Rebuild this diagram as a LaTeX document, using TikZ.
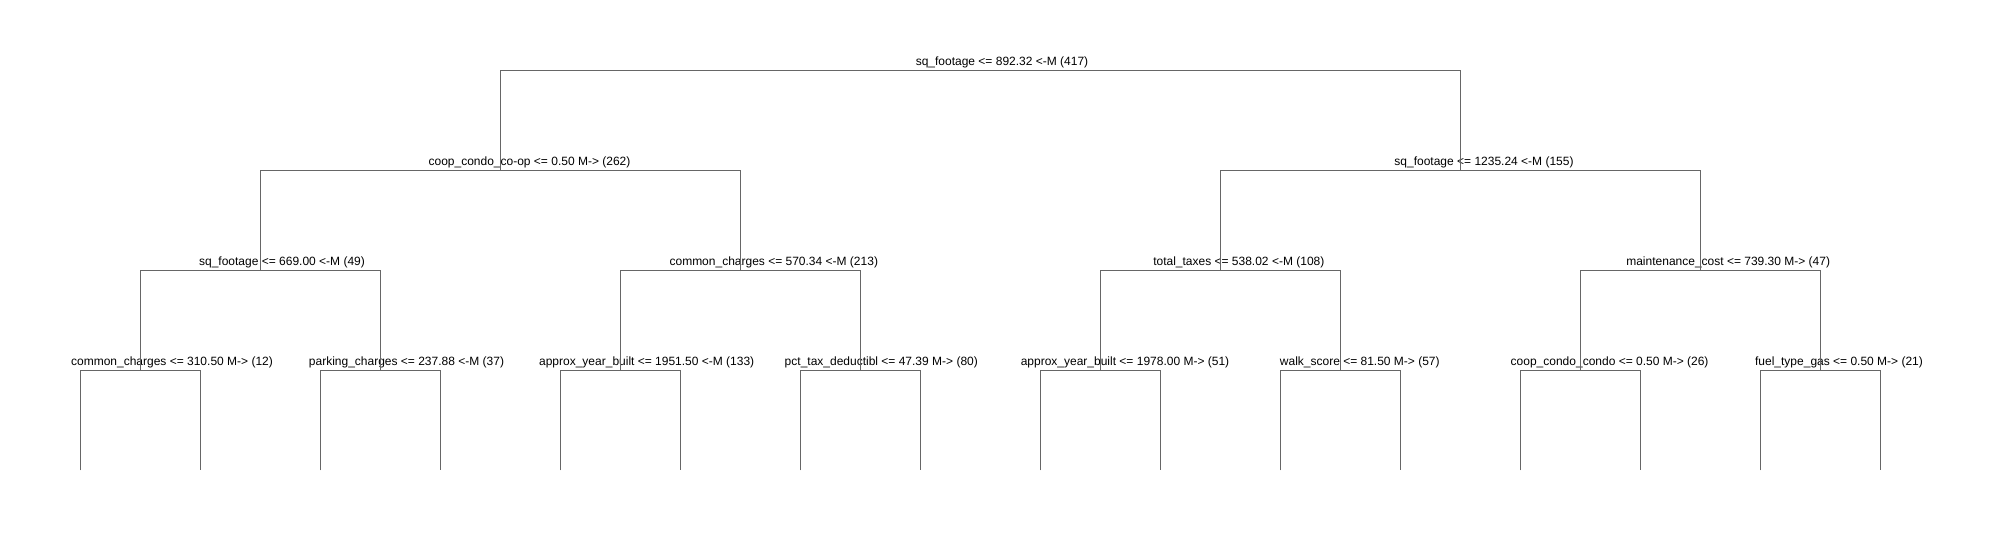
\documentclass[tikz,border=0pt]{standalone}
\usepackage{fontspec}
\setmainfont{Liberation Sans}
\begin{document}
\begin{tikzpicture}[x=1pt,y=-1pt,
  edge/.style={draw=black!60, line width=0.9pt},
  lbl/.style={anchor=base, inner sep=0pt, font=\fontsize{12}{14}\selectfont, text=black}]
\useasboundingbox[fill=white] (0,0) rectangle (1992,540);
% split points
\coordinate (r)   at (980,70.3);
\coordinate (a)   at (500,170.3);
\coordinate (b)   at (1460,170.3);
\coordinate (aa)  at (260,270.3);
\coordinate (ab)  at (740,270.3);
\coordinate (ba)  at (1220,270.3);
\coordinate (bb)  at (1700,270.3);
\coordinate (aaa) at (140,370.3);
\coordinate (aab) at (380,370.3);
\coordinate (aba) at (620,370.3);
\coordinate (abb) at (860,370.3);
\coordinate (baa) at (1100,370.3);
\coordinate (bab) at (1340,370.3);
\coordinate (bba) at (1580,370.3);
\coordinate (bbb) at (1820,370.3);
% leaves
\foreach \i in {0,...,15} {\coordinate (l\i) at ({80+120*\i},470.3);}
% labels
\node[lbl] (tr)   at (1002,65.7)  {sq\_footage <= 892.32 <-M (417)};
\node[lbl] (ta)   at (529.5,165.7) {coop\_condo\_co-op <= 0.50 M-> (262)};
\node[lbl] (tb)   at (1484,165.7) {sq\_footage <= 1235.24 <-M (155)};
\node[lbl] (taa)  at (282,265.7)  {sq\_footage <= 669.00 <-M (49)};
\node[lbl] (tab)  at (773.8,265.7) {common\_charges <= 570.34 <-M (213)};
\node[lbl] (tba)  at (1238.8,265.7) {total\_taxes <= 538.02 <-M (108)};
\node[lbl] (tbb)  at (1728.2,265.7) {maintenance\_cost <= 739.30 M-> (47)};
\node[lbl] (taaa) at (172,365.7)  {common\_charges <= 310.50 M-> (12)};
\node[lbl] (taab) at (406.5,365.7) {parking\_charges <= 237.88 <-M (37)};
\node[lbl] (taba) at (646.7,365.7) {approx\_year\_built <= 1951.50 <-M (133)};
\node[lbl] (tabb) at (881.3,365.7) {pct\_tax\_deductibl <= 47.39 M-> (80)};
\node[lbl] (tbaa) at (1125,365.7) {approx\_year\_built <= 1978.00 M-> (51)};
\node[lbl] (tbab) at (1359.8,365.7) {walk\_score <= 81.50 M-> (57)};
\node[lbl] (tbba) at (1609.6,365.7) {coop\_condo\_condo <= 0.50 M-> (26)};
\node[lbl] (tbbb) at (1839,365.7) {fuel\_type\_gas <= 0.50 M-> (21)};
% connectors
\draw[edge] (a) |- (r) -| (b);
\draw[edge] (aa) |- (a) -| (ab);
\draw[edge] (ba) |- (b) -| (bb);
\draw[edge] (aaa) |- (aa) -| (aab);
\draw[edge] (aba) |- (ab) -| (abb);
\draw[edge] (baa) |- (ba) -| (bab);
\draw[edge] (bba) |- (bb) -| (bbb);
\draw[edge] (l0) |- (aaa) -| (l1);
\draw[edge] (l2) |- (aab) -| (l3);
\draw[edge] (l4) |- (aba) -| (l5);
\draw[edge] (l6) |- (abb) -| (l7);
\draw[edge] (l8) |- (baa) -| (l9);
\draw[edge] (l10) |- (bab) -| (l11);
\draw[edge] (l12) |- (bba) -| (l13);
\draw[edge] (l14) |- (bbb) -| (l15);
\end{tikzpicture}
\end{document}
